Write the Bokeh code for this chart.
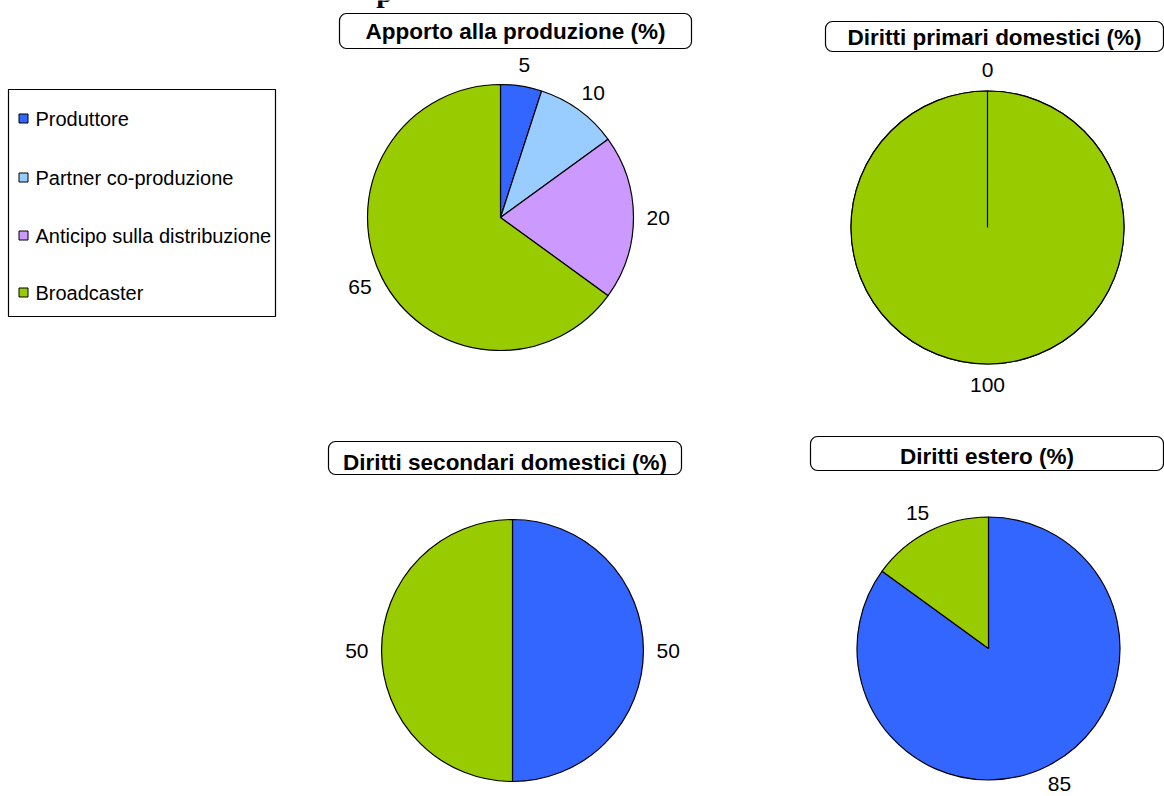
import math
from bokeh.plotting import figure
from bokeh.models import Range1d, ColumnDataSource
from bokeh.core.properties import value
from bokeh.embed import file_html
from bokeh.resources import INLINE

# ---------------- data ----------------
categories = ["Produttore", "Partner co-produzione", "Anticipo sulla distribuzione", "Broadcaster"]
pie_titles = ["Apporto alla produzione (%)", "Diritti primari domestici (%)",
              "Diritti secondari domestici (%)", "Diritti estero (%)"]
apporto = [5, 10, 20, 65]
primari = [0, None, None, 100]
secondari = [50, None, None, 50]
estero = [85, None, None, 15]
series = [apporto, primari, secondari, estero]

# ---------------- styles / layout (screen px, y downwards) ----------------
colors = ["#3366FF", "#99CCFF", "#CC99FF", "#99CC00"]
W, H = 1164, 796
pie_layout = [(500, 217, 133), (987, 227, 136.5), (512, 650, 131), (988, 648, 131.5)]
# left, right, top, bottom, text middle
title_boxes = [(339, 691, 13, 48, 31), (825, 1163, 21, 51, 37),
               (328, 681, 441, 474, 462), (810, 1163, 436, 470, 456)]
legend_box = (8, 275, 89, 316)
legend_rows = [118, 177, 235, 292]
FONT = "Liberation Sans"
LABEL_PX = 21
GAP = 13


def Y(sy):
    return H - sy


p = figure(width=W, height=H, x_range=Range1d(0, W), y_range=Range1d(0, H),
           min_border=0, toolbar_location=None, output_backend="svg",
           x_axis_type=None, y_axis_type=None)
p.outline_line_color = None
p.background_fill_color = "white"
p.border_fill_color = "white"

# cut-off heading fragment at the very top (only its descender shows)
p.text(x=[384], y=[Y(-9)], text=["p"], text_font=value("Liberation Serif"),
       text_font_style="bold", text_font_size="30px", text_align="center",
       text_baseline="middle", text_color="black")

# ---------------- pies ----------------
for vals, (cx, cy, r) in zip(series, pie_layout):
    items = [(i, v) for i, v in enumerate(vals) if v is not None]
    total = float(sum(v for _, v in items))
    xs, ys, starts, ends, fills = [], [], [], [], []
    lx, ly, lt = [], [], []
    before = 0.0
    for i, v in items:
        after = before + v
        a_start = 2.5 * math.pi - 2 * math.pi * after / total
        a_end = 2.5 * math.pi - 2 * math.pi * before / total
        xs.append(cx); ys.append(Y(cy))
        starts.append(a_start); ends.append(a_end)
        fills.append(colors[i])
        # label, outside the slice's middle
        th = 2 * math.pi * (before + after) / 2 / total
        dx, dy = math.sin(th), -math.cos(th)
        txt = str(v)
        w = len(txt) * 0.556 * LABEL_PX
        h = 16
        sx = cx + dx * (r + GAP) + dx * w / 2
        sy = cy + dy * (r + GAP) + dy * h / 2
        lx.append(sx); ly.append(Y(sy)); lt.append(txt)
        before = after
    src = ColumnDataSource(dict(x=xs, y=ys, s=starts, e=ends, c=fills))
    p.wedge(x="x", y="y", radius=r, start_angle="s", end_angle="e",
            direction="anticlock", fill_color="c", line_color="black",
            line_width=1.2, source=src)
    p.text(x=lx, y=ly, text=lt, text_font=value(FONT), text_font_size=f"{LABEL_PX}px",
           text_align="center", text_baseline="middle", text_color="black")

# ---------------- title boxes ----------------
for t, (l, rr, tp, bt, mid) in zip(pie_titles, title_boxes):
    p.quad(left=[l], right=[rr], top=[Y(tp)], bottom=[Y(bt)], border_radius=7,
           fill_color="white", line_color="black", line_width=1.2)
    p.text(x=[(l + rr) / 2], y=[Y(mid)], text=[t], text_font=value(FONT),
           text_font_style="bold", text_font_size="22.5px", text_align="center",
           text_baseline="middle", text_color="black")

# ---------------- legend ----------------
l, rr, tp, bt = legend_box
p.quad(left=[l], right=[rr], top=[Y(tp)], bottom=[Y(bt)], fill_color="white",
       line_color="black", line_width=1.2)
p.scatter(x=[23] * len(categories), y=[Y(v) for v in legend_rows], marker="square",
          size=9, fill_color=colors, line_color="black", line_width=1)
p.text(x=[35] * len(categories), y=[Y(v) for v in legend_rows], text=categories,
       text_font=value(FONT), text_font_size="20px", text_align="left",
       text_baseline="middle", text_color="black")

open("out.html", "w").write(file_html(p, INLINE))
